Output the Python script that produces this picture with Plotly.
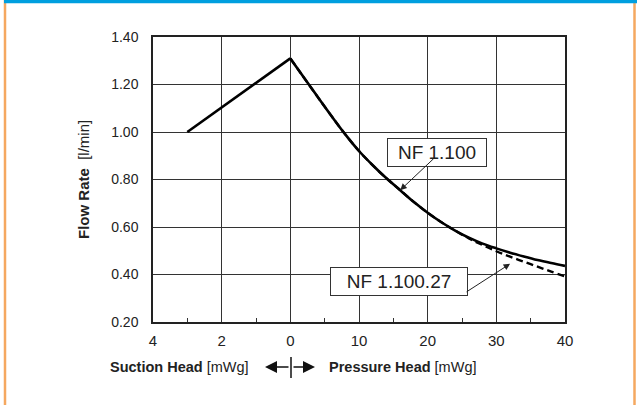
import plotly.graph_objects as go

# ---- data ----
suction_head = [3, 2, 1, 0]                 # mWg (left part of axis)
suction_flow = [1.00, 1.103, 1.207, 1.31]   # l/min

pressure_head = [0, 2, 4, 6, 8, 10, 12, 14, 16, 18, 20, 22, 24, 26, 28, 30, 32, 34, 36, 38, 40]
nf1100_flow = [1.31, 1.228, 1.147, 1.067, 0.990, 0.920, 0.860, 0.805, 0.755, 0.705, 0.660,
               0.620, 0.585, 0.555, 0.530, 0.510, 0.492, 0.476, 0.461, 0.448, 0.436]
nf110027_flow = [1.31, 1.228, 1.147, 1.067, 0.990, 0.920, 0.860, 0.805, 0.755, 0.705, 0.660,
                 0.620, 0.585, 0.552, 0.524, 0.498, 0.475, 0.454, 0.433, 0.412, 0.392]

x_tick_labels = ["4", "2", "0", "10", "20", "30", "40"]
y_ticks = [0.20, 0.40, 0.60, 0.80, 1.00, 1.20, 1.40]

# axis mapping: suction 2 mWg per grid cell (left of 0), pressure 10 mWg per cell
def s2u(s):
    return -s / 2.0

def p2u(p):
    return p / 10.0

x_tick_vals = [-2, -1, 0, 1, 2, 3, 4]

W, H = 637, 405
L, R, T, B = 153, 72, 37, 83
PW, PH = W - L - R, H - T - B

def px(x):
    return (x - L) / PW

def py(y):
    return (H - B - y) / PH

fig = go.Figure()
fig.add_trace(go.Scatter(x=[s2u(s) for s in suction_head], y=suction_flow, mode="lines",
                         line=dict(color="black", width=2.6), showlegend=False))
fig.add_trace(go.Scatter(x=[p2u(p) for p in pressure_head], y=nf110027_flow, mode="lines",
                         line=dict(color="black", width=2.4, dash="7px,4px", shape="spline"),
                         showlegend=False))
fig.add_trace(go.Scatter(x=[p2u(p) for p in pressure_head], y=nf1100_flow, mode="lines",
                         line=dict(color="black", width=2.6, shape="spline"), showlegend=False))

font = "Liberation Sans, Arial, sans-serif"

fig.update_layout(
    width=W, height=H,
    margin=dict(l=L, r=R, t=T, b=B),
    paper_bgcolor="white", plot_bgcolor="white",
    font=dict(family=font, color="black", size=14),
    xaxis=dict(range=[-2, 4], tickmode="array", tickvals=x_tick_vals, ticktext=x_tick_labels,
               showgrid=True, gridcolor="#333333", gridwidth=1, zeroline=False,
               showline=True, linecolor="#222222", linewidth=1.5, mirror=True,
               ticks="", tickfont=dict(size=15, color="#222222"), ticklabelstandoff=4,
               minor=dict(tickmode="array", tickvals=[-1.5, -0.5, 0.5, 1.5, 2.5, 3.5],
                          ticks="inside", ticklen=4, tickcolor="#333333", showgrid=False)),
    yaxis=dict(range=[0.2, 1.4], tickmode="array", tickvals=y_ticks, tickformat=".2f",
               showgrid=True, gridcolor="#333333", gridwidth=1, zeroline=False,
               showline=True, linecolor="#222222", linewidth=1.5, mirror=True,
               ticks="", tickfont=dict(size=14, color="#222222"), ticklabelstandoff=10),
)

# labels in boxes
fig.add_annotation(xref="paper", yref="paper", x=px(487), y=py(152), text="NF 1.100",
                   showarrow=False, font=dict(size=19, color="#222222"),
                   bgcolor="white", bordercolor="#333333", borderwidth=1,
                   width=96, height=25, borderpad=1)
fig.add_annotation(xref="paper", yref="paper", x=px(399), y=py(296), text="NF 1.100.27",
                   showarrow=False, font=dict(size=19, color="#222222"),
                   bgcolor="white", bordercolor="#333333", borderwidth=1,
                   width=134, height=25, borderpad=1)
# arrows
fig.add_annotation(x=p2u(16), y=nf1100_flow[8], xref="x", yref="y", text="",
                   showarrow=True, arrowhead=2, arrowsize=1.3, arrowwidth=1, arrowcolor="#222222",
                   ax=35, ay=-33)
fig.add_annotation(x=p2u(32), y=nf110027_flow[16] - 0.03, xref="x", yref="y", text="",
                   showarrow=True, arrowhead=2, arrowsize=1.3, arrowwidth=1, arrowcolor="#222222",
                   ax=-45, ay=29)

# y-axis title
fig.add_annotation(xref="paper", yref="paper", x=px(73), y=0.5, textangle=-90,
                   text="<b>Flow Rate</b>  [l/min]", showarrow=False,
                   font=dict(size=15, color="#222222"))

# bottom axis titles
fig.add_annotation(xref="paper", yref="paper", x=px(251), y=py(367), xanchor="right",
                   yanchor="middle", text="<b>Suction Head</b> [mWg]", showarrow=False,
                   font=dict(size=14.5, color="#222222"))
fig.add_annotation(xref="paper", yref="paper", x=px(327), y=py(367), xanchor="left",
                   yanchor="middle", text="<b>Pressure Head</b> [mWg]", showarrow=False,
                   font=dict(size=14.5, color="#222222"))
# arrows ←|→
fig.add_annotation(xref="paper", yref="paper", axref="pixel", ayref="pixel",
                   x=px(265), y=py(367), ax=25, ay=0, text="", showarrow=True,
                   arrowhead=2, arrowsize=1.6, arrowwidth=1.5, arrowcolor="#111111")
fig.add_annotation(xref="paper", yref="paper", axref="pixel", ayref="pixel",
                   x=px(315), y=py(367), ax=-23, ay=0, text="", showarrow=True,
                   arrowhead=2, arrowsize=1.6, arrowwidth=1.5, arrowcolor="#111111")
fig.add_shape(type="line", xref="paper", yref="paper", x0=px(291), x1=px(291),
              y0=py(357), y1=py(378), line=dict(color="#111111", width=1.5))

# frame: orange side lines and blue top bar
fig.add_shape(type="line", xref="paper", yref="paper", x0=px(5), x1=px(5), y0=py(0), y1=py(405),
              line=dict(color="#F5A860", width=2.5))
fig.add_shape(type="line", xref="paper", yref="paper", x0=px(634.5), x1=px(634.5), y0=py(0), y1=py(405),
              line=dict(color="#F5A860", width=2.5))
fig.add_shape(type="line", xref="paper", yref="paper", x0=px(4), x1=px(637), y0=py(1.5), y1=py(1.5),
              line=dict(color="#009FDF", width=3.5))

fig.write_html("out.html", config={"displayModeBar": False},
               post_script="document.body.style.margin='0';document.body.style.overflow='hidden';")
